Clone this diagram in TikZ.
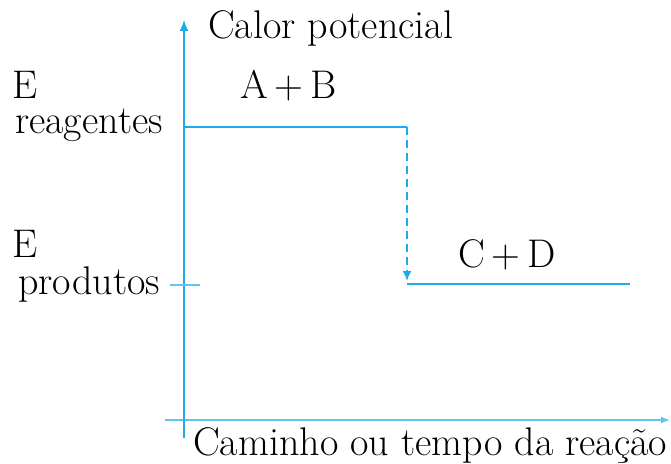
\documentclass[tikz,border=0pt]{standalone}
\usepackage{tikz}
\usetikzlibrary{arrows.meta}
\definecolor{azul}{RGB}{28,172,236}
\tikzset{
  linha/.style={draw=azul, line width=1.6pt},
  eixox/.style={draw=azul!70, line width=1.4pt},
  tracejado/.style={dash pattern=on 8pt off 5pt},
  rotulo/.style={anchor=base west, inner sep=0pt, font=\fontsize{40}{46}\selectfont},
}
\begin{document}
\begin{tikzpicture}[x=1pt,y=-1pt]
  \useasboundingbox (0,0) rectangle (671,463);
  % eixos
  \coordinate (base) at (184,438);
  \coordinate (topo) at (184,20);
  \coordinate (xini) at (165,420);
  \coordinate (xfim) at (670,420);
  % niveis de energia
  \coordinate (r0) at (184,127);
  \coordinate (r1) at (407,127);
  \coordinate (seta) at (407,281);
  \coordinate (p0) at (407,284);
  \coordinate (p1) at (630,284);
  \coordinate (t0) at (170,285);
  \coordinate (t1) at (200,285);

  \draw[eixox,-{Latex[length=9pt,width=7pt]}] (xini) -- (xfim);
  \draw[linha,-{Latex[length=11pt,width=9pt]}] (base) -- (topo);
  \draw[linha] (r0) -- (r1);
  \draw[linha,tracejado,-{Latex[length=10pt,width=9pt]}] (r1) -- (seta);
  \draw[linha] (p0) -- (p1);
  \draw[eixox] (t0) -- (t1);

  \node[rotulo] (calor) at (208,38) {Calor potencial};
  \node[rotulo] (er) at (12,98) {E};
  \node[rotulo] (reag) at (15,133) {reagentes};
  \node[rotulo] (ab) at (240,98) {A\,+\,B};
  \node[rotulo] (ep) at (12,257) {E};
  \node[rotulo] (prod) at (18,294) {produtos};
  \node[rotulo] (cd) at (458,267) {C\,+\,D};
  \node[rotulo] (caminho) at (193,455) {Caminho ou tempo da reação};
\end{tikzpicture}
\end{document}
